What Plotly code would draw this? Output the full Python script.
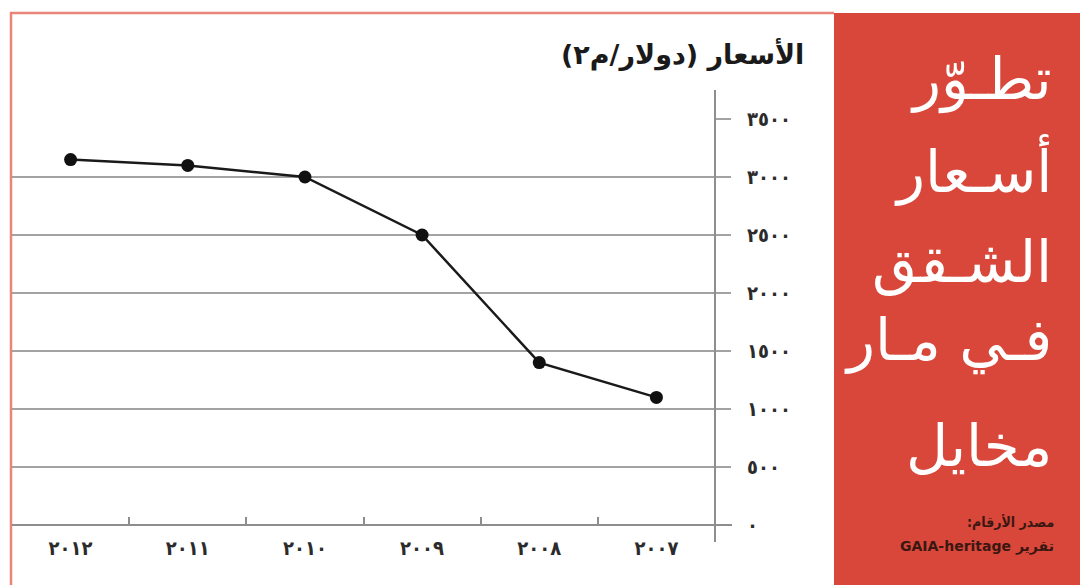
import plotly.graph_objects as go

# Apartment prices in Mar Mikhael (USD per m2), 2007-2012
years = ["2007", "2008", "2009", "2010", "2011", "2012"]
year_labels = ["٢٠٠٧", "٢٠٠٨", "٢٠٠٩", "٢٠١٠", "٢٠١١", "٢٠١٢"]
prices = [1100, 1400, 2500, 3000, 3100, 3150]

y_ticks = [0, 500, 1000, 1500, 2000, 2500, 3000, 3500]
y_tick_labels = ["٠", "٥٠٠", "١٠٠٠", "١٥٠٠", "٢٠٠٠", "٢٥٠٠", "٣٠٠٠", "٣٥٠٠"]

title_lines = ["تطـوّر", "أسـعار", "الشـقق", "فـي مـار", "مخايل"]
axis_title = "الأسعار (دولار/م٢)"
source_lines = ["مصدر الأرقام:", "تقرير GAIA-heritage"]

RED = "#D9473A"
BORDER = "#E8847A"
GRID = "#A3A3A3"
AXIS = "#8E8E8E"

RLE, PDF = "\u202b", "\u202c"  # right-to-left embedding for Arabic strings

W, H = 1080, 585
L, R, T, B = 12, 365, 119, 60
plot_w = W - L - R
plot_h = H - T - B


def px_x(px):
    return (px - L) / plot_w


def px_y(py):
    return (H - B - py) / plot_h


def rtl(s):
    return RLE + s + PDF


fig = go.Figure()
fig.add_trace(go.Scatter(
    x=years, y=prices, mode="lines+markers",
    line=dict(color="#1a1a1a", width=2.5),
    marker=dict(color="#111111", size=13),
    hoverinfo="skip", showlegend=False,
))

shapes = [
    # red side panel
    dict(type="rect", xref="paper", yref="paper",
         x0=px_x(834), x1=px_x(1085), y0=px_y(13), y1=px_y(590),
         fillcolor=RED, line=dict(width=0), layer="below"),
    # thin frame around the chart
    dict(type="line", xref="paper", yref="paper",
         x0=px_x(10), x1=px_x(834), y0=px_y(13), y1=px_y(13),
         line=dict(color=BORDER, width=2.5)),
    dict(type="line", xref="paper", yref="paper",
         x0=px_x(11), x1=px_x(11), y0=px_y(12), y1=px_y(590),
         line=dict(color=BORDER, width=2.5)),
    # vertical value axis
    dict(type="line", xref="paper", yref="paper",
         x0=1, x1=1, y0=px_y(90), y1=px_y(542),
         line=dict(color=AXIS, width=2)),
    # baseline
    dict(type="line", xref="paper", yref="paper",
         x0=0, x1=px_x(732), y0=0, y1=0,
         line=dict(color=AXIS, width=2)),
]

annotations = [
    dict(text=f"<b>{rtl(axis_title)}</b>", xref="paper", yref="paper",
         x=px_x(806), y=px_y(55), xanchor="right", yanchor="middle",
         showarrow=False, font=dict(family="DejaVu Sans", size=27, color="#1a1a1a")),
]

line_centers = [80, 170, 262, 340, 446]
for txt, cy in zip(title_lines, line_centers):
    annotations.append(dict(
        text=rtl(txt), xref="paper", yref="paper",
        x=px_x(1054), y=px_y(cy), xanchor="right", yanchor="middle",
        showarrow=False, font=dict(family="DejaVu Sans", size=58, color="white"),
    ))

source_fonts = ["DejaVu Sans Condensed, DejaVu Sans", "DejaVu Sans"]
for txt, cy, fam in zip(source_lines, [522, 546], source_fonts):
    annotations.append(dict(
        text=f"<b>{rtl(txt)}</b>", xref="paper", yref="paper",
        x=px_x(1056), y=px_y(cy), xanchor="right", yanchor="middle",
        showarrow=False, font=dict(family=fam, size=14, color="#3b1712"),
    ))

tick_font = dict(family="DejaVu Sans Condensed, DejaVu Sans", size=20, color="#2b2b2b", weight="bold")

fig.update_layout(
    width=W, height=H,
    margin=dict(l=L, r=R, t=T, b=B, pad=0),
    paper_bgcolor="white", plot_bgcolor="white",
    shapes=shapes, annotations=annotations,
    xaxis=dict(
        type="category", range=[5.5, -0.5],
        tickmode="array", tickvals=years, ticktext=year_labels, tickangle=0,
        ticks="inside", ticklen=8, tickwidth=2, tickcolor=AXIS,
        tickson="boundaries",
        showgrid=False, showline=False, zeroline=False,
        tickfont=tick_font,
        ticklabelstandoff=9,
    ),
    yaxis=dict(
        range=[0, 3500], side="right",
        tickmode="array", tickvals=y_ticks, ticktext=y_tick_labels,
        ticks="outside", ticklen=15, tickwidth=2, tickcolor=GRID,
        showgrid=True, gridcolor=GRID, gridwidth=2,
        showline=False, zeroline=False,
        tickfont=tick_font,
        ticklabelstandoff=12,
    ),
)

fig.write_html("out.html")
